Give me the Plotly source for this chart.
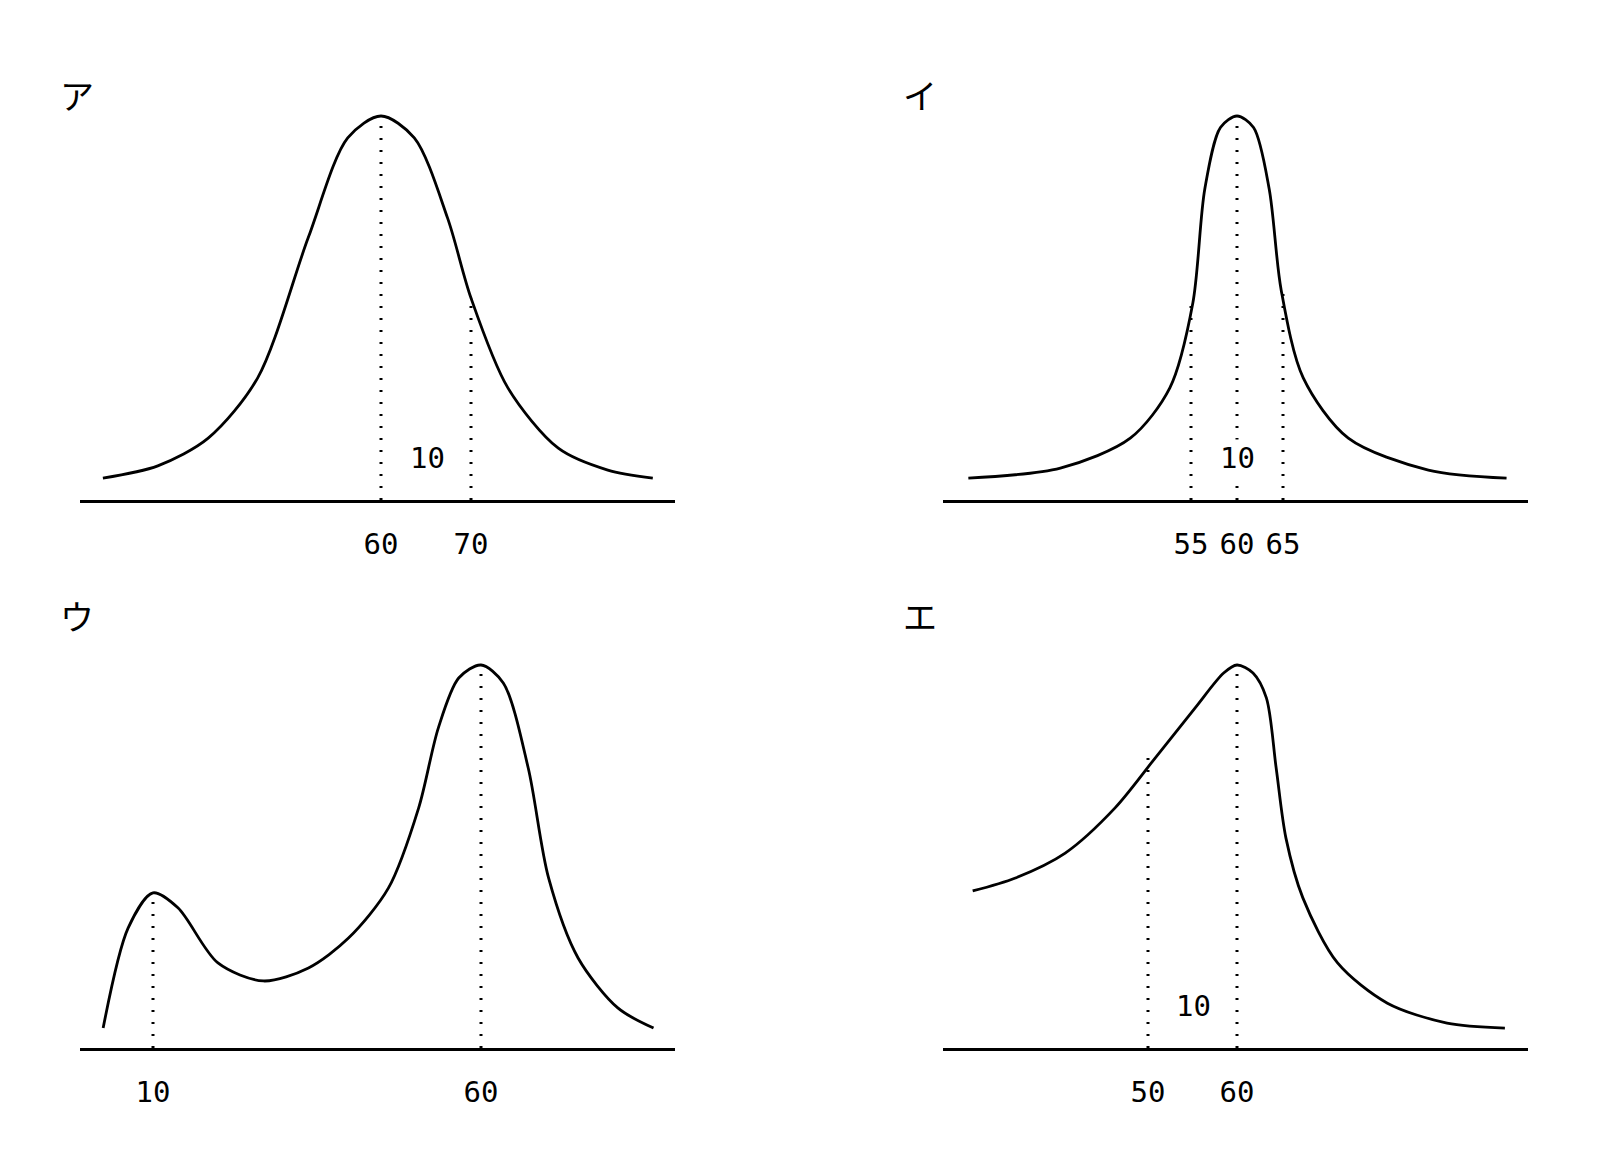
import plotly.graph_objects as go

W, H = 1614, 1170

# Curve data (x in score units, y in relative frequency 0..100)
a_x = [29.1, 35.2, 40.8, 46.3, 51.9, 56.3, 60, 63.7, 67.4, 70, 74.1, 79.7, 85.2, 90.2]
a_y = [5.7, 8.9, 16.1, 31.8, 68.2, 94.3, 100, 94.3, 73.4, 52.6, 29.2, 13.5, 7.8, 5.7]

i_x = [30.8, 40.8, 48.4, 52.7, 55.2, 56.5, 58.2, 60, 61.8, 63.5, 64.8, 67.2, 72.1, 80.8, 89.3]
i_y = [5.7, 8.3, 16.1, 29.2, 51.3, 81.0, 97.0, 100, 97.0, 81.0, 54.7, 31.8, 16.1, 7.8, 5.7]

u_x = [2.4, 6.2, 10, 13.8, 19.9, 26.8, 33.7, 39.8, 45.9, 50.5, 53.5, 56.6, 60, 63.4, 67.2, 70.3, 74.8, 80.9, 86.3]
u_y = [5.2, 31.3, 40.5, 36.6, 22.2, 17.5, 20.9, 28.7, 41.8, 62.7, 83.6, 96.6, 100, 95.3, 73.1, 44.4, 23.5, 10.4, 5.2]

e_x = [30.3, 35.1, 40.7, 46.3, 50.8, 55.3, 58.5, 60, 61.8, 63.3, 64.4, 65.5, 67.4, 71.3, 76.9, 83.6, 90.1]
e_y = [41.0, 44.4, 50.9, 62.7, 75.7, 88.8, 97.9, 100, 97.9, 91.4, 73.1, 54.8, 39.2, 22.2, 11.7, 6.5, 5.2]

a_ticks, a_text = [60, 70], ["60", "70"]
i_ticks, i_text = [55, 60, 65], ["55", "60", "65"]
u_ticks, u_text = [10, 60], ["10", "60"]
e_ticks, e_text = [50, 60], ["50", "60"]

# dotted reference lines: (x, height on curve)
a_refs = [(60, 100), (70, 52.6)]
i_refs = [(55, 51.3), (60, 100), (65, 54.7)]
u_refs = [(10, 40.5), (60, 100)]
e_refs = [(50, 75.7), (60, 100)]

labels = ["ア", "イ", "ウ", "エ"]

panels = [
    dict(l=72, r=667, b=492, t=60, px0=373, v0=60, ppu=9.0, hpx=384, cx=a_x, cy=a_y, tv=a_ticks, tt=a_text, refs=a_refs, lab=(50, 60), ten=(65.2, 10.9)),
    dict(l=935, r=1520, b=492, t=60, px0=1229, v0=60, ppu=9.2, hpx=384, cx=i_x, cy=i_y, tv=i_ticks, tt=i_text, refs=i_refs, lab=(912, 60), ten=(60, 10.9)),
    dict(l=72, r=667, b=1040, t=610, px0=473, v0=60, ppu=6.56, hpx=383, cx=u_x, cy=u_y, tv=u_ticks, tt=u_text, refs=u_refs, lab=(50, 607), ten=None),
    dict(l=935, r=1520, b=1040, t=610, px0=1229, v0=60, ppu=8.9, hpx=383, cx=e_x, cy=e_y, tv=e_ticks, tt=e_text, refs=e_refs, lab=(912, 607), ten=(55.1, 11.0)),
]

fig = go.Figure()
layout = dict(width=W, height=H, margin=dict(l=0, r=0, t=0, b=0),
              plot_bgcolor="white", paper_bgcolor="white", showlegend=False)
annotations = []
for k, p in enumerate(panels):
    sx = "" if k == 0 else str(k + 1)
    xr = [p["v0"] + (p["l"] - p["px0"]) / p["ppu"], p["v0"] + (p["r"] - p["px0"]) / p["ppu"]]
    yscale = p["hpx"] / 100.0
    yr = [0, (p["b"] - p["t"]) / yscale]
    layout["xaxis" + sx] = dict(domain=[p["l"] / W, p["r"] / W], range=xr, showgrid=False, zeroline=False,
                                showline=True, linecolor="black", linewidth=2.5, ticks="outside", ticklen=16,
                                tickcolor="white", tickvals=p["tv"], ticktext=p["tt"],
                                tickfont=dict(family="DejaVu Sans Mono", size=29, color="black"),
                                anchor="y" + sx, fixedrange=True)
    layout["yaxis" + sx] = dict(domain=[1 - p["b"] / H, 1 - p["t"] / H], range=yr, visible=False,
                                anchor="x" + sx, fixedrange=True)
    for (rx, ry) in p["refs"]:
        fig.add_trace(go.Scatter(x=[rx, rx], y=[0, ry], mode="lines",
                                 line=dict(color="black", width=3, dash="2px,10px"),
                                 xaxis="x" + sx, yaxis="y" + sx))
    fig.add_trace(go.Scatter(x=p["cx"], y=p["cy"], mode="lines",
                             line=dict(color="black", width=2.8, shape="spline", smoothing=0.85),
                             xaxis="x" + sx, yaxis="y" + sx))
    if p["ten"]:
        tx, ty = p["ten"]
        annotations.append(dict(x=tx, y=ty, xref="x" + sx, yref="y" + sx, text="10", showarrow=False,
                                bgcolor="white",
                                font=dict(family="DejaVu Sans Mono", size=29, color="black")))
    annotations.append(dict(x=p["lab"][0] / W, y=1 - p["lab"][1] / H, xref="paper", yref="paper", text=labels[k],
                            showarrow=False, font=dict(family="Noto Sans CJK JP", size=34, color="black")))
layout["annotations"] = annotations
fig.update_layout(**layout)
fig.write_html("out.html")
